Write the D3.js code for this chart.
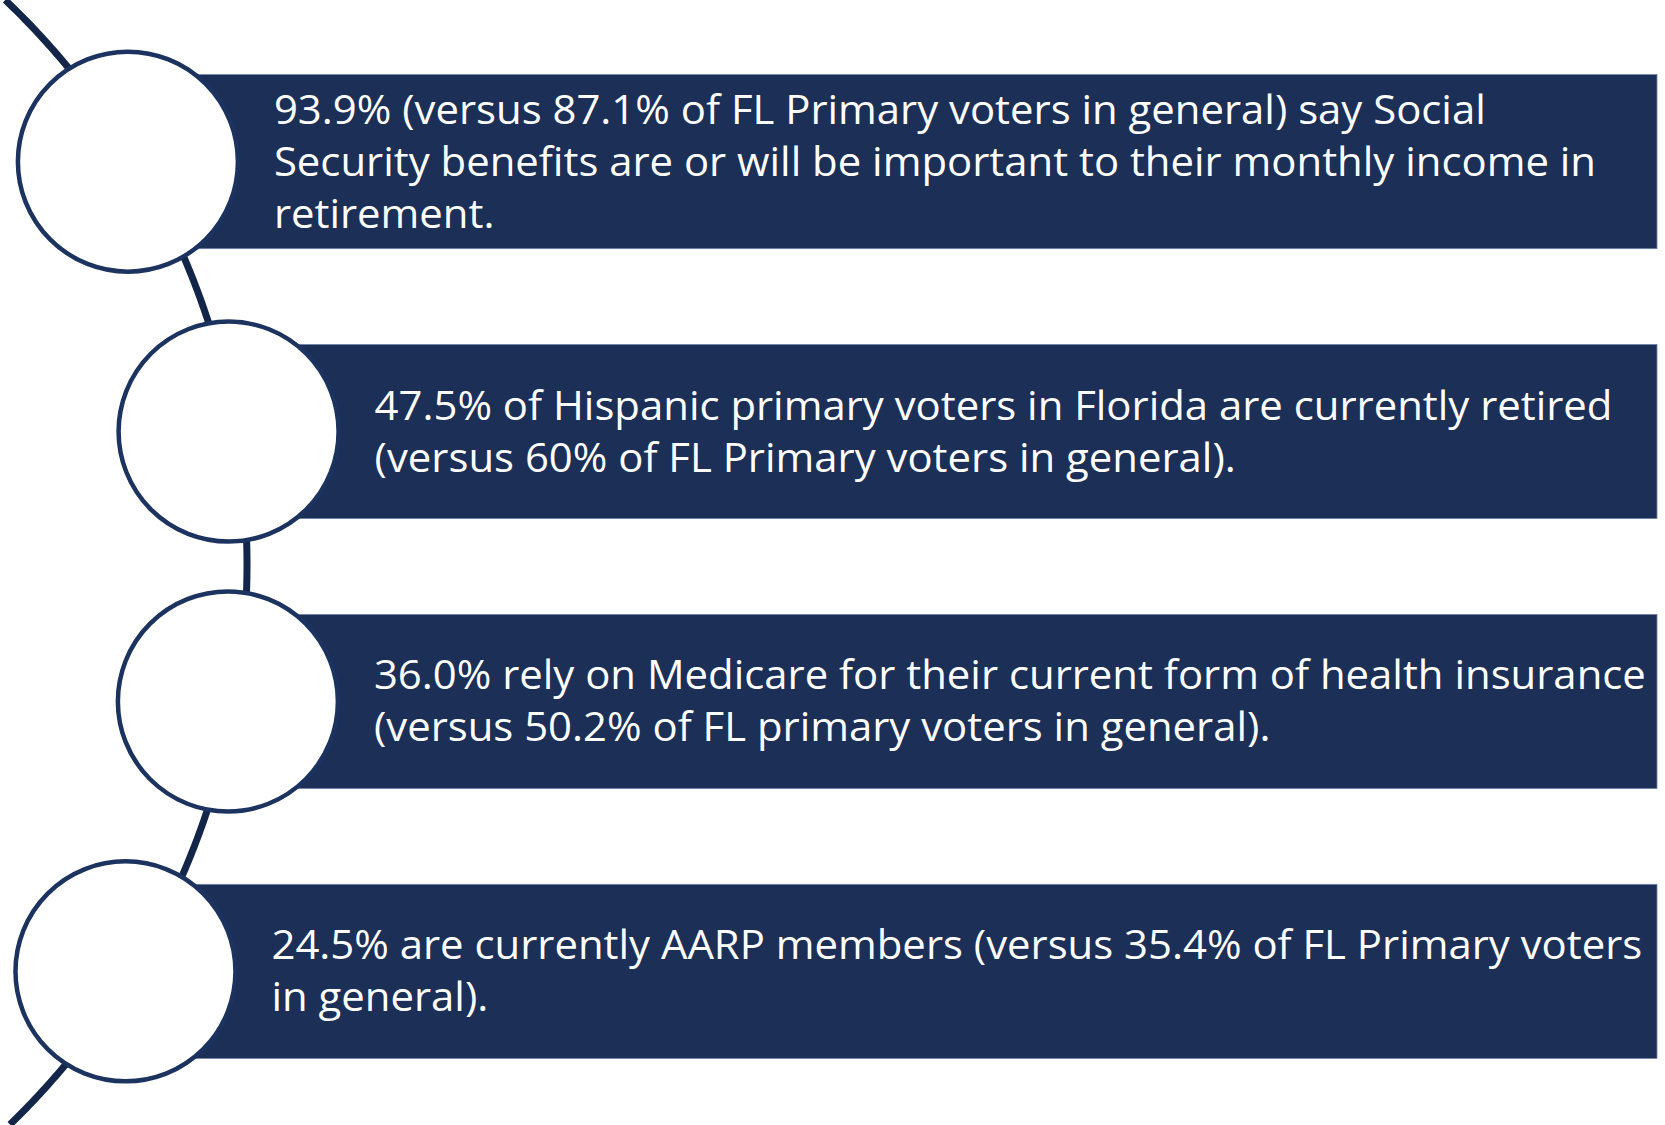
<!DOCTYPE html>
<html lang="en">
  <head>
    <meta charset="UTF-8">
    <title>Hispanic primary voters</title>
    <style>
      html, body { margin: 0; padding: 0; background: #fff; }
      .card text { fill: #fff; font-family: "Open Sans", sans-serif; }
    </style>
  </head>
  <body>
    <svg id="chart"></svg>
    <script src="https://cdn.jsdelivr.net/npm/d3@7/dist/d3.min.js"></script>
    <script>
      // Statements, one entry per row, pre-wrapped the way the slide wraps them
      var rows = [0, 1, 2, 3];
      var lines = [
        ["93.9% (versus 87.1% of FL Primary voters in general) say Social",
         "Security benefits are or will be important to their monthly income in",
         "retirement."],
        ["47.5% of Hispanic primary voters in Florida are currently retired",
         "(versus 60% of FL Primary voters in general)."],
        ["36.0% rely on Medicare for their current form of health insurance",
         "(versus 50.2% of FL primary voters in general)."],
        ["24.5% are currently AARP members (versus 35.4% of FL Primary voters",
         "in general)."]
      ];

      var W = 1665, H = 1125;
      var svg = d3.select("#chart").attr("width", W).attr("height", H);

      // Row positions
      var y = d3.scaleBand().domain(rows).range([26, 1107]).paddingInner(0.355).paddingOuter(0.18);
      var rowMid = function(d) { return y(d) + y.bandwidth() / 2; };

      // The big arc the circles sit on
      var arcR = 780, arcCx = -533, arcCy = 564.5;
      var arcX = function(yy) { return arcCx + Math.sqrt(arcR * arcR - (yy - arcCy) * (yy - arcCy)); };

      var a0 = Math.asin((0 - arcCy) / arcR), a1 = Math.asin((H - arcCy) / arcR);
      var arcPts = d3.range(a0, a1 + 0.001, 0.005).map(function(a) {
        return [arcCx + arcR * Math.cos(a), arcCy + arcR * Math.sin(a)];
      });
      svg.append("path")
        .attr("d", d3.line()(arcPts))
        .attr("fill", "none")
        .attr("stroke", "#14254a")
        .attr("stroke-width", 7);

      var circleX = function(d) { return arcX(rowMid(d)) - 7; };

      var card = svg.selectAll(".card")
        .data(rows)
        .enter()
        .append("g")
        .attr("class", "card");

      card.append("rect")
        .attr("x", function(d) { return circleX(d); })
        .attr("y", function(d) { return y(d); })
        .attr("width", function(d) { return 1657 - circleX(d); })
        .attr("height", y.bandwidth())
        .attr("fill", "#1b2f57")
        .attr("stroke", "#7184a8")
        .attr("stroke-width", 0.8);

      card.append("circle")
        .attr("cx", circleX)
        .attr("cy", rowMid)
        .attr("r", 110)
        .attr("fill", "#fff")
        .attr("stroke", "#1c3360")
        .attr("stroke-width", 4.5);

      var lineH = 52, fontSize = 40;

      // squeeze Open Sans horizontally so it runs as wide as the slide's font
      var probe = svg.append("text")
        .attr("font-family", "Open Sans, sans-serif")
        .attr("font-size", fontSize)
        .text(lines[0][0]);
      var sx = 1212 / probe.node().getComputedTextLength();
      probe.remove();

      card.each(function(d) {
        var g = d3.select(this);
        var ls = lines[d];
        var x0 = circleX(d) + 146;
        var top = rowMid(d) - (ls.length - 1) * lineH / 2;
        ls.forEach(function(t, i) {
          g.append("text")
            .attr("transform", "translate(" + x0 + "," + (top + i * lineH) + ") scale(" + sx + ",1)")
            .attr("font-size", fontSize)
            .attr("dy", "0.35em")
            .text(t);
        });
      });
    </script>
  </body>
</html>
